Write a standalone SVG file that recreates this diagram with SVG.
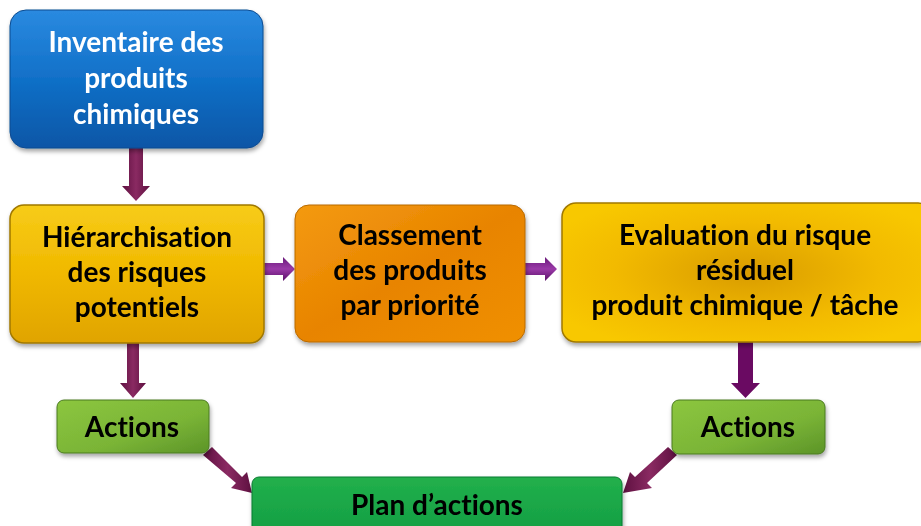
<svg xmlns="http://www.w3.org/2000/svg" width="921" height="526" viewBox="0 0 921 526">
<defs>
<linearGradient id="gBlue" x1="0" y1="0" x2="0" y2="1"><stop offset="0" stop-color="#2a8ae0"/><stop offset="0.5" stop-color="#1170c8"/><stop offset="1" stop-color="#0b56a6"/></linearGradient>
<linearGradient id="gGold" x1="0" y1="0" x2="0" y2="1"><stop offset="0" stop-color="#f7cc18"/><stop offset="0.5" stop-color="#f0b800"/><stop offset="1" stop-color="#e0a400"/></linearGradient>
<radialGradient id="gGoldR" cx="0.5" cy="0.5" r="0.6"><stop offset="0" stop-color="#d99c00"/><stop offset="0.6" stop-color="#f2ba00"/><stop offset="1" stop-color="#f8c800"/></radialGradient>
<linearGradient id="gOrange" x1="0" y1="0" x2="1" y2="1"><stop offset="0" stop-color="#f49a10"/><stop offset="0.5" stop-color="#e88400"/><stop offset="1" stop-color="#f09000"/></linearGradient>
<linearGradient id="gLime" x1="0" y1="0" x2="1" y2="1"><stop offset="0" stop-color="#8cc63f"/><stop offset="0.6" stop-color="#7ab436"/><stop offset="1" stop-color="#5c9428"/></linearGradient>
<linearGradient id="gGreen" x1="0" y1="0" x2="0" y2="1"><stop offset="0" stop-color="#22b04c"/><stop offset="1" stop-color="#109a40"/></linearGradient>
<linearGradient id="gArrowV" x1="0" y1="0" x2="1" y2="0"><stop offset="0" stop-color="#5e1040"/><stop offset="0.5" stop-color="#8a2a62"/><stop offset="1" stop-color="#5e1040"/></linearGradient>
<linearGradient id="gArrowH" x1="0" y1="0" x2="0" y2="1"><stop offset="0" stop-color="#6a1a7a"/><stop offset="0.5" stop-color="#9a3aa8"/><stop offset="1" stop-color="#5a1068"/></linearGradient>
<filter id="sh" x="-10%" y="-10%" width="120%" height="130%"><feDropShadow dx="1" dy="3" stdDeviation="2" flood-color="#000" flood-opacity="0.35"/></filter>
</defs>
<style>
.t{font-family:Lato,"Open Sans","Liberation Sans",sans-serif;font-size:28px;font-weight:700;text-anchor:middle;fill:#000;font-variant-ligatures:none}
.w{fill:#fff}
.box{filter:url(#sh)}
</style>

<g id="connectors">
  <path d="M129,148 H143 V186 H150 L136,201 L122,186 H129 Z" fill="url(#gArrowV)"/>
  <path d="M264,263 H283 V257 L295,269 L283,281 V275 H264 Z" fill="url(#gArrowH)"/>
  <path d="M525,263 H545 V257 L557,269 L545,281 V275 H525 Z" fill="url(#gArrowH)"/>
  <path d="M127,343 H139 V383 H146 L133,398 L120,383 H127 Z" fill="url(#gArrowV)"/>
  <path d="M738,342 H753 V383 H760 L745.5,398 L731,383 H738 Z" fill="#6a0a62"/>
  <path d="M203,455 L212,447 L242,477 L247,472 L252,493 L231,488 L236,483 Z" fill="url(#gArrowV)"/>
  <path d="M668,447 L677,455 L647,483 L652,488 L623,493 L630,472 L635,477 Z" fill="url(#gArrowV)"/>
</g>

<g id="n-inventaire" class="box">
  <rect x="10" y="10" width="253" height="138" rx="16" fill="url(#gBlue)" stroke="#0a4a90" stroke-width="1"/>
  <text class="t w" x="136" y="52">Inventaire des</text>
  <text class="t w" x="136" y="88">produits</text>
  <text class="t w" x="136" y="124">chimiques</text>
</g>

<g id="n-hierarchisation" class="box">
  <rect x="10" y="205" width="254" height="138" rx="14" fill="url(#gGold)" stroke="#a07800" stroke-width="1.5"/>
  <text class="t" x="137" y="247">Hiérarchisation</text>
  <text class="t" x="137" y="282">des risques</text>
  <text class="t" x="137" y="317">potentiels</text>
</g>

<g id="n-classement" class="box">
  <rect x="295" y="205" width="230" height="137" rx="14" fill="url(#gOrange)" stroke="#b86a00" stroke-width="1"/>
  <text class="t" x="410" y="245">Classement</text>
  <text class="t" x="410" y="280">des produits</text>
  <text class="t" x="410" y="315">par priorité</text>
</g>

<g id="n-evaluation" class="box">
  <rect x="562" y="203" width="370" height="139" rx="14" fill="url(#gGoldR)" stroke="#a07800" stroke-width="1.5"/>
  <text class="t" x="745" y="245">Evaluation du risque</text>
  <text class="t" x="745" y="280">résiduel</text>
  <text class="t" x="745" y="315">produit chimique / tâche</text>
</g>

<g id="n-actions-left" class="box">
  <rect x="57" y="400" width="152" height="53" rx="7" fill="url(#gLime)" stroke="#4a7a20" stroke-width="1"/>
  <text class="t" x="132" y="437">Actions</text>
</g>

<g id="n-actions-right" class="box">
  <rect x="672" y="400" width="153" height="54" rx="7" fill="url(#gLime)" stroke="#4a7a20" stroke-width="1"/>
  <text class="t" x="748" y="437">Actions</text>
</g>

<g id="n-plan" class="box">
  <rect x="252" y="477" width="370" height="70" rx="7" fill="url(#gGreen)" stroke="#0a7a30" stroke-width="1"/>
  <text class="t" x="437" y="515">Plan d’actions</text>
</g>
</svg>
